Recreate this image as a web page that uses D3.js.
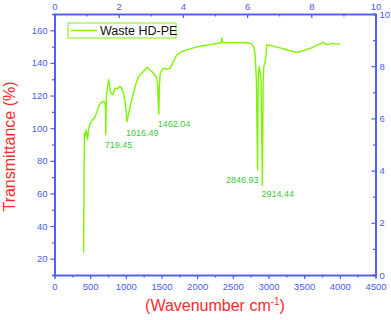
<!DOCTYPE html>
<html>
<head>
<meta charset="utf-8">
<script src="https://cdn.jsdelivr.net/npm/d3@7"></script>
<style>
	body { margin: 0; background: #fff; }
	svg { display: block; font-family: 'Liberation Sans', Arial, sans-serif; }
</style>
</head>
<body>
<div id="chart"></div>
<script>
// Spectrum: wavenumber (cm-1) and transmittance (%)
const wavenumber = [400, 408, 414, 420, 430, 445, 463, 480, 500, 530, 571, 600, 641, 665, 687, 707, 714, 719.45, 726, 743, 763, 777, 791, 819, 851, 879, 911, 935, 967, 991, 1005, 1016.49, 1030, 1051, 1080, 1108, 1140, 1178, 1230, 1272, 1295, 1330, 1365, 1426, 1445, 1462.04, 1470, 1482, 1528, 1575, 1622, 1668, 1716, 1786, 1850, 1902, 1970, 2043, 2110, 2183, 2250, 2323, 2340, 2347, 2355, 2370, 2450, 2550, 2650, 2700, 2760, 2790, 2810, 2830, 2846.93, 2855, 2862, 2872, 2882, 2895, 2914.44, 2925, 2935, 2950, 2965, 2978, 3050, 3164, 3280, 3398, 3470, 3538, 3620, 3701, 3770, 3819, 3900, 3960, 4005];
const transmittance = [24, 24, 70, 97, 95, 99, 93, 100, 103, 105, 107, 111, 115.4, 116, 116.4, 115.6, 112, 95.9, 118, 125.6, 129.7, 124, 121.5, 120.5, 124.6, 124, 125.6, 125, 121.5, 115.4, 110, 104, 107, 111.3, 117, 121.5, 127, 131.7, 134, 135.8, 137.4, 136, 134.7, 131.7, 127, 108.5, 125, 133.8, 136.8, 136, 136.8, 141, 145, 147, 148, 148.6, 149.5, 150.2, 150.7, 151.2, 151.8, 152.2, 152.6, 155.3, 152.8, 152.6, 152.4, 152.6, 152.4, 152.4, 151.8, 150, 146, 130, 74.5, 128, 135, 138, 134, 130, 65, 128, 138, 140, 145, 151.2, 150.5, 149.2, 147.8, 146.5, 147.2, 148.1, 149.6, 151.2, 152.6, 151.2, 152, 151.4, 151.8];

// Peak annotations (label, wavenumber, transmittance of the text baseline)
const peakLabels = ['719.45', '1016.49', '1462.04', '2846.93', '2914.44'];
const peakWave = [719.45, 1016.49, 1462.04, 2846.93, 2914.44];
const peakText = [88, 95.3, 100.9, 66.5, 57.9];

const seriesName = 'Waste HD-PE';

const width = 391;
const height = 320;
const marginTop = 14;
const marginRight = 15.5;
const marginBottom = 45;
const marginLeft = 54.5;

const axisColor = '#4a5cf2';
const lineColor = '#7cf500';
const titleColor = '#ff2a2a';

const svg = d3.select('#chart')
	.append('svg')
	.attr('width', width)
	.attr('height', height);

const x = d3.scaleLinear().domain([0, 4500]).range([marginLeft, width - marginRight]);
const y = d3.scaleLinear().domain([10, 170]).range([height - marginBottom, marginTop]);
const xTop = d3.scaleLinear().domain([0, 10]).range([marginLeft, width - marginRight]);
const yRight = d3.scaleLinear().domain([0, 10]).range([height - marginBottom, marginTop]);

// minor ticks first, major on top
function drawAxis(axis, transform) {
	const g = svg.append('g').attr('transform', transform).call(axis);
	g.selectAll('path, line').attr('stroke', axisColor);
	g.select('.domain').attr('stroke-width', 1.6);
	g.selectAll('.tick line').attr('stroke-width', 1.2);
	g.selectAll('text')
		.attr('fill', axisColor)
		.style('font-size', '9.5px');
	return g;
}

const bottom = height - marginBottom;
const right = width - marginRight;
const fmt = d3.format('d');

// bottom axis
drawAxis(d3.axisBottom(x).tickValues(d3.range(250, 4500, 500)).tickSize(2.5).tickFormat(''), `translate(0,${bottom})`);
drawAxis(d3.axisBottom(x).tickValues(d3.range(0, 4501, 500)).tickSize(4).tickSizeOuter(0).tickPadding(4).tickFormat(fmt), `translate(0,${bottom})`);

// left axis
drawAxis(d3.axisLeft(y).tickValues(d3.range(30, 170, 20)).tickSize(2.5).tickFormat(''), `translate(${marginLeft},0)`);
drawAxis(d3.axisLeft(y).tickValues(d3.range(20, 161, 20)).tickSize(4).tickSizeOuter(0).tickPadding(3).tickFormat(fmt), `translate(${marginLeft},0)`);

// top axis (ticks inside)
drawAxis(d3.axisTop(xTop).tickValues(d3.range(1, 10, 2)).tickSize(-2.5).tickFormat(''), `translate(0,${marginTop})`);
const topAx = drawAxis(d3.axisTop(xTop).tickValues(d3.range(0, 11, 2)).tickSize(-4).tickSizeOuter(0).tickPadding(0).tickFormat(fmt), `translate(0,${marginTop})`);
topAx.selectAll('text').attr('y', -4);

// right axis (ticks inside)
drawAxis(d3.axisRight(yRight).tickValues(d3.range(1, 10, 2)).tickSize(-2.5).tickFormat(''), `translate(${right},0)`);
const rightAx = drawAxis(d3.axisRight(yRight).tickValues(d3.range(0, 11, 2)).tickSize(-4).tickSizeOuter(0).tickFormat(fmt), `translate(${right},0)`);
rightAx.selectAll('text').attr('x', 4);

// spectrum
const spectrum = wavenumber.map((w, i) => [w, transmittance[i]]);
svg.append('path')
	.datum(spectrum)
	.attr('fill', 'none')
	.attr('stroke', lineColor)
	.attr('stroke-width', 1.4)
	.attr('stroke-linejoin', 'round')
	.attr('d', d3.line().x((d) => x(d[0])).y((d) => y(d[1])));

// peak labels
svg.append('g')
	.selectAll('text')
	.data(peakLabels)
	.enter()
	.append('text')
	.attr('x', (d, i) => x(peakWave[i]) + (i == 3 ? 1 : -1))
	.attr('y', (d, i) => y(peakText[i]))
	.attr('text-anchor', (d, i) => (i == 3 ? 'end' : 'start'))
	.text((d) => d)
	.attr('fill', '#3cc83c')
	.style('font-size', '9px');

// legend
const legend = svg.append('g').attr('transform', 'translate(68,23)');
legend.append('rect')
	.attr('width', 108)
	.attr('height', 15)
	.attr('fill', '#fff')
	.attr('stroke', lineColor)
	.attr('stroke-width', 1);
legend.append('line')
	.attr('x1', 3).attr('x2', 29)
	.attr('y1', 7.5).attr('y2', 7.5)
	.attr('stroke', lineColor)
	.attr('stroke-width', 1.4);
legend.append('text')
	.attr('x', 32)
	.attr('y', 12)
	.text(seriesName)
	.attr('fill', '#111')
	.style('font-size', '12.5px');

// axis titles
svg.append('text')
	.attr('transform', `translate(15,${(marginTop + bottom) / 2 + 2}) rotate(-90)`)
	.attr('text-anchor', 'middle')
	.attr('fill', titleColor)
	.style('font-size', '16px')
	.text('Transmittance (%)');

const xTitle = svg.append('text')
	.attr('x', (marginLeft + right) / 2)
	.attr('y', 311)
	.attr('text-anchor', 'middle')
	.attr('fill', titleColor)
	.style('font-size', '16px');
xTitle.append('tspan').text('(Wavenumber cm');
xTitle.append('tspan').attr('dy', -6).style('font-size', '10px').text('-1');
xTitle.append('tspan').attr('dy', 6).text(')');
</script>
</body>
</html>
